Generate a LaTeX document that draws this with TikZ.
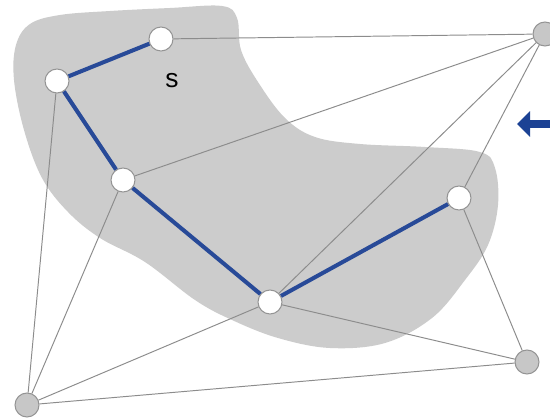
\documentclass[tikz,border=0pt]{standalone}
\usepackage{fontspec}
\setsansfont{Liberation Sans}
\usetikzlibrary{arrows.meta}

\definecolor{treeblue}{RGB}{40,74,152}
\definecolor{pointblue}{RGB}{28,66,148}

\begin{document}
\begin{tikzpicture}[
    x=0.02cm, y=-0.02cm,
    font=\sffamily,
    vertex/.style={
        circle,
        draw=black!42,
        fill=white,
        line width=0.6pt,
        minimum size=0.48cm,
        inner sep=0pt
    },
    outer/.style={
        vertex,
        fill=black!22
    },
    edge/.style={
        draw=black!45,
        line width=0.55pt
    },
    tree/.style={
        draw=treeblue,
        line width=2.3pt
    },
    region/.style={
        fill=black!20
    },
    pointer/.style={
        -{Triangle[length=0.26cm,width=0.5cm]},
        draw=pointblue,
        line width=4pt
    }
]

\useasboundingbox[fill=white] (0,0) rectangle (550,418);

% the shaded set
\fill[region] plot[smooth cycle, tension=0.6] coordinates {
    (30,24) (60,15) (110,11) (170,8) (222,6) (237,18) (241,50) (258,82)
    (285,118) (315,137) (360,144) (425,147) (480,152) (495,168) (498,205)
    (488,245) (465,280) (432,318) (385,343) (330,348) (278,338) (232,320)
    (195,300) (145,262) (100,238) (68,212) (42,178) (24,130) (14,80) (16,45)
};

\node (setname) at (172,81) {\fontsize{15}{17}\selectfont s};

\node[vertex] (a) at (161,39) {};
\node[vertex] (b) at (57,81) {};
\node[vertex] (c) at (123,180) {};
\node[vertex] (d) at (270,302) {};
\node[vertex] (e) at (459,198) {};
\node[outer] (f) at (545,34) {};
\node[outer] (g) at (527,362) {};
\node[outer] (h) at (27,405) {};

\coordinate (tail) at (556,124);
\coordinate (tip) at (517,124);

\draw[tree] (a) -- (b);
\draw[tree] (b) -- (c);
\draw[tree] (c) -- (d);
\draw[tree] (d) -- (e);

\draw[edge] (a) -- (f);
\draw[edge] (c) -- (f);
\draw[edge] (d) -- (f);
\draw[edge] (e) -- (f);
\draw[edge] (b) -- (h);
\draw[edge] (c) -- (h);
\draw[edge] (d) -- (h);
\draw[edge] (h) -- (g);
\draw[edge] (d) -- (g);
\draw[edge] (e) -- (g);

\draw[pointer] (tail) -- (tip);

\end{tikzpicture}
\end{document}
